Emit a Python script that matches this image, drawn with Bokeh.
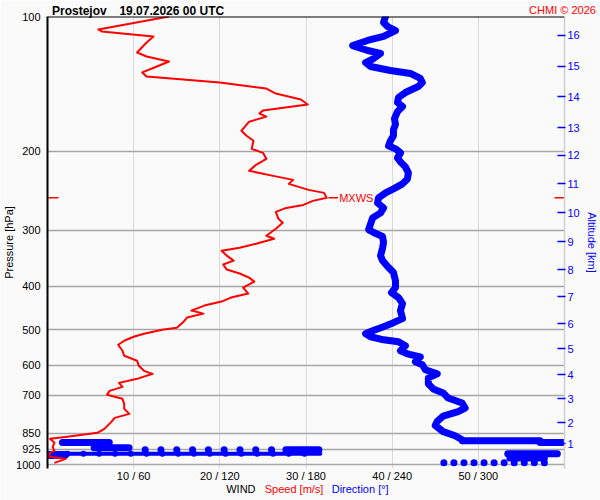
import json
import math
import numpy as np
from bokeh.plotting import figure
from bokeh.models import (Range1d, FixedTicker, LogAxis, LinearAxis, CustomJSTickFormatter,
                          PrintfTickFormatter, Label, Span)
from bokeh.embed import file_html
from bokeh.resources import INLINE

# ---- wind speed profile (hPa, m/s)
speed_p = [100, 106.9, 108.0, 110.8, 114.3, 120.3, 122.8, 126.0, 129.3, 133.3, 136.1, 140.4,
           144.8, 148.6, 153.2, 157.2, 162.1, 164.7, 167.3, 171.7, 179.9, 184.6, 189.4, 197.4,
           201.5, 207.8, 214.3, 221.0, 226.8, 231.5, 236.3, 243.7, 247.5, 253.9, 257.9, 263.3,
           267.4, 272.9, 282.8, 288.6, 297.6, 308.5, 313.3, 321.4, 328.1, 333.1, 341.7, 350.5,
           357.7, 367.0, 374.6, 382.5, 390.5, 402.6, 415.2, 423.8, 432.6, 441.6, 453.1, 460.2,
           469.7, 479.6, 494.8, 499.9, 510.3, 518.3, 529.0, 540.0, 557.0, 571.5, 586.5, 601.8,
           617.5, 627.1, 643.5, 656.9, 670.6, 684.4, 698.6, 713.0, 731.6, 750.7, 770.3, 786.3,
           806.7, 832.0, 849.3, 866.8, 875.8, 894.0, 912.6, 931.6, 941.2, 960.7, 970.7, 991.0]
speed_v = [14.1, 5.9, 6.3, 12.3, 11.5, 10.4, 11.5, 14.1, 12.7, 11.0, 11.5, 20.0,
           25.4, 26.5, 29.4, 30.2, 25.0, 24.6, 25.4, 23.4, 22.5, 23.1, 23.9, 23.7,
           25.0, 25.4, 24.2, 23.4, 26.2, 28.5, 28.0, 30.3, 32.1, 32.4, 30.8, 29.7,
           27.7, 26.5, 26.8, 27.3, 26.5, 25.4, 26.3, 24.2, 22.3, 20.2, 20.8, 21.6,
           20.4, 20.8, 22.3, 23.4, 24.0, 22.7, 23.3, 21.3, 20.2, 18.2, 16.7, 18.1,
           16.2, 15.8, 15.0, 13.3, 11.2, 10.0, 8.9, 8.2, 8.7, 8.9, 10.4, 10.6,
           11.2, 12.2, 10.4, 8.3, 8.7, 7.2, 6.9, 8.7, 8.9, 8.9, 9.5, 7.8,
           7.3, 6.6, 5.8, 2.3, 0.3, 0.8, 0.6, 0.8, 0.3, 0.2, 2.1, 0.8]

# ---- wind direction profile (hPa, degrees)
dir_p = [100, 103.1, 105.3, 107.5, 110.8, 113.1, 116.1, 119.1, 120.9, 124.1, 126.7, 129.3,
         132.0, 134.0, 137.5, 140.4, 143.3, 147.8, 151.6, 155.6, 158.8, 163.0, 169.0, 174.2,
         178.8, 184.6, 189.4, 194.3, 197.4, 201.5, 206.8, 211.0, 216.5, 223.3, 230.4, 236.3,
         242.5, 247.5, 253.9, 260.6, 267.4, 274.3, 281.4, 298.9, 303.4, 309.7, 319.2, 328.9,
         341.7, 350.5, 361.4, 372.7, 388.5, 402.6, 413.1, 423.8, 437.1, 453.1, 472.2, 482.1,
         492.2, 502.5, 510.3, 518.3, 526.5, 532.0, 543.2, 557.0, 565.8, 574.8, 589.6, 598.7,
         614.2, 627.1, 640.3, 660.4, 677.6, 691.7, 709.9, 728.6, 747.8, 761.5, 779.5, 800.4,
         818, 844, 862, 880, 884]
dir_v = [235.4, 234.0, 236.8, 242.3, 234.0, 222.9, 212.5, 222.9, 231.9, 227.1, 221.5, 225.0,
         238.8, 252.7, 259.6, 261.0, 258.2, 249.2, 244.4, 243.7, 247.2, 243.7, 241.6, 242.3,
         240.9, 240.9, 238.8, 237.5, 242.3, 245.8, 243.7, 245.8, 249.2, 251.3, 250.6, 247.2,
         240.9, 235.4, 230.5, 229.8, 234.0, 231.9, 226.4, 223.6, 227.1, 233.3, 234.0, 233.3,
         231.9, 233.3, 236.8, 240.9, 242.3, 242.3, 239.5, 244.4, 247.2, 245.8, 247.2, 240.9,
         234.0, 226.4, 221.5, 225.0, 234.0, 244.4, 249.2, 245.8, 250.6, 259.6, 256.2, 261.0,
         263.1, 271.4, 265.2, 265.2, 268.6, 275.5, 279.0, 288.7, 290.8, 285.9, 275.5, 271.4,
         270.0, 275.5, 283.8, 288.7, 289.0]

# near-surface direction sweeps (pressure, from deg, to deg, stroke)
run_p = [884, 893, 893, 917, 926, 945, 952, 945, 967]
run_d0 = [289, 343, 10.4, 32.5, 166, 0, 0, 320.5, 322]
run_d1 = [343, 360, 43, 56.8, 189, 190, 12, 355, 346]
run_w = [7, 7, 7, 7, 7, 4, 8, 7, 7]
dots926_p = 926
dots926_d = [68, 79, 90, 101, 112, 123, 134, 145, 156]
dots945_p = 945
dots945_d = [14, 25, 36, 47, 58, 69, 80, 91, 102, 113, 124, 135, 146, 157, 168, 179]
dots990_p = 990
dots990_d = [276, 283, 290, 297, 304, 311, 318, 325, 332, 339, 346]

press_ticks = [100, 200, 300, 400, 500, 600, 700, 850, 925, 1000]
alt_km = list(range(1, 17))
alt_p = [898, 806, 712, 630, 551, 485, 422, 367, 318, 274, 236, 204, 177, 151, 129, 110]
speed_ticks = [10, 20, 30, 40, 50]
DIR_PER_MS = 6  # 60 m/s <-> 360 deg

station = "Prostejov"
run_time = "19.07.2026 00 UTC"
credit = "CHMI © 2026"

FONT = "Liberation Sans"
RED = "#ff0000"
BLUE = "#0000ff"

# frame geometry in page pixels (used only to place free-standing text)
FX0, FX1, FY0, FY1 = 45, 565, 16, 468
W, H = 600, 500
P_TOP, P_BOT = 100, 1020


def sx(px):
    return (px - FX0) * 60.0 / (FX1 - FX0)


p = figure(width=W, height=H, x_range=Range1d(0, 60), y_range=Range1d(P_BOT, P_TOP),
           y_axis_type="log", output_backend="svg", toolbar_location=None,
           min_border_left=FX0, min_border_right=W - FX1, min_border_top=FY0,
           min_border_bottom=H - FY1)
p.background_fill_color = "#fafafa"
p.border_fill_color = "#fafafa"
p.outline_line_color = None

# bottom axis
xa = p.xaxis[0]
xa.ticker = FixedTicker(ticks=speed_ticks)
xa.major_label_overrides = {s: f"{s} / {s * DIR_PER_MS}" for s in speed_ticks}
xa.axis_line_color = None
xa.major_tick_line_color = None
xa.major_tick_out = 0
xa.major_tick_in = 0
xa.minor_tick_line_color = None
xa.minor_tick_out = 0
xa.major_label_standoff = 1
xa.major_label_text_font = FONT
xa.major_label_text_font_size = "11px"
xa.major_label_text_color = "#000000"

# left axis
ya = p.yaxis[0]
ya.ticker = FixedTicker(ticks=press_ticks)
ya.formatter = PrintfTickFormatter(format="%d")
ya.axis_line_color = "#000000"
ya.axis_line_width = 2
ya.major_tick_line_color = None
ya.major_tick_out = 0
ya.major_tick_in = 0
ya.minor_tick_line_color = None
ya.minor_tick_out = 0
ya.major_label_standoff = 7
ya.major_label_text_font = FONT
ya.major_label_text_font_size = "11px"
ya.major_label_text_color = "#000000"
ya.axis_label = "Pressure [hPa]"
ya.axis_label_standoff = -2
ya.axis_label_text_font = FONT
ya.axis_label_text_font_size = "11px"
ya.axis_label_text_font_style = "normal"
ya.axis_label_text_color = "#000000"

# grids
p.xgrid.ticker = FixedTicker(ticks=speed_ticks)
p.xgrid.grid_line_color = "#d9d9d9"
p.xgrid.grid_line_width = 1
p.ygrid.ticker = FixedTicker(ticks=press_ticks[1:])
p.ygrid.grid_line_color = "#a6a6a6"
p.ygrid.grid_line_width = 1.3

# right altitude axis
mapping = ",".join(f"{pp}:'{k}'" for pp, k in zip(alt_p, alt_km))
ra = LogAxis(ticker=FixedTicker(ticks=alt_p),
             formatter=CustomJSTickFormatter(code="const m={" + mapping + "}; return m[tick] || '';"))
ra.axis_line_color = "#d0d0d0"
ra.axis_line_width = 1.5
ra.major_tick_line_color = BLUE
ra.major_tick_line_width = 1.5
ra.major_tick_in = 7
ra.major_tick_out = 1
ra.minor_tick_line_color = None
ra.minor_tick_out = 0
ra.major_label_standoff = 2
ra.major_label_text_color = BLUE
ra.major_label_text_font = FONT
ra.major_label_text_font_size = "11px"
ra.axis_label = "Altitude [km]"
ra.axis_label_standoff = 3
ra.axis_label_text_font = FONT
ra.axis_label_text_font_size = "11px"
ra.axis_label_text_font_style = "normal"
ra.axis_label_text_color = BLUE
p.add_layout(ra, "right")


def text_axis(side, centers_px, texts, color, size, style, standoff):
    ax = LinearAxis(ticker=FixedTicker(ticks=[sx(c) for c in centers_px]),
                    formatter=CustomJSTickFormatter(code="const L=" + json.dumps(texts) +
                                                    "; return L[index];"))
    ax.axis_line_color = None
    ax.major_tick_line_color = None
    ax.major_tick_out = 0
    ax.major_tick_in = 0
    ax.minor_tick_line_color = None
    ax.minor_tick_out = 0
    ax.minor_tick_in = 0
    ax.major_label_standoff = standoff
    ax.major_label_text_font = FONT
    ax.major_label_text_font_size = size
    ax.major_label_text_font_style = style
    ax.major_label_text_color = color
    p.add_layout(ax, side)
    return ax


# header line (stacked text-only axes; negative standoffs pull them onto one row)
text_axis("above", [77, 170], [station, run_time], "#000000", "12px", "bold", -1)
text_axis("above", [563], [credit], RED, "11px", "normal", -15)
# footer line
text_axis("below", [239.5], ["WIND"], "#000000", "11px", "normal", -2)
text_axis("below", [293], ["Speed [m/s]"], RED, "11px", "normal", -15)
text_axis("below", [359.5], ["Direction [°]"], BLUE, "11px", "normal", -15)

# top frame line
p.add_layout(Span(location=P_TOP, dimension="width", line_color="#000000", line_width=2))

# direction (blue)
dir_x = np.array(dir_v) / DIR_PER_MS
p.line(dir_x, dir_p, line_color=BLUE, line_width=7, line_join="round", line_cap="round")
p.segment(x0=np.array(run_d0) / DIR_PER_MS, y0=run_p, x1=np.array(run_d1) / DIR_PER_MS, y1=run_p,
          line_color=BLUE, line_width=run_w, line_cap="round")
p.scatter(np.array(dots926_d) / DIR_PER_MS, [dots926_p] * len(dots926_d), size=7,
          fill_color=BLUE, line_color=None)
p.scatter(np.array(dots945_d) / DIR_PER_MS, [dots945_p] * len(dots945_d), size=6,
          fill_color=BLUE, line_color=None)
p.scatter(np.array(dots990_d) / DIR_PER_MS, [dots990_p] * len(dots990_d), size=7,
          fill_color=BLUE, line_color=None)

# speed (red)
p.line(speed_v, speed_p, line_color=RED, line_width=2, line_join="round")

# max wind marker
imax = int(np.argmax(speed_v))
pmax, vmax = speed_p[imax], speed_v[imax]
p.segment(x0=[sx(43), sx(555), vmax + 0.2], y0=[pmax] * 3,
          x1=[sx(56), sx(568), vmax + 1.3], y1=[pmax] * 3, line_color=RED, line_width=1.5)
p.add_layout(Label(x=vmax + 1.45, y=pmax, text="MXWS", text_color=RED, text_font=FONT,
                   text_font_size="11px", text_baseline="middle", text_align="left"))

with open("out.html", "w", encoding="utf-8") as f:
    f.write(file_html(p, INLINE))
